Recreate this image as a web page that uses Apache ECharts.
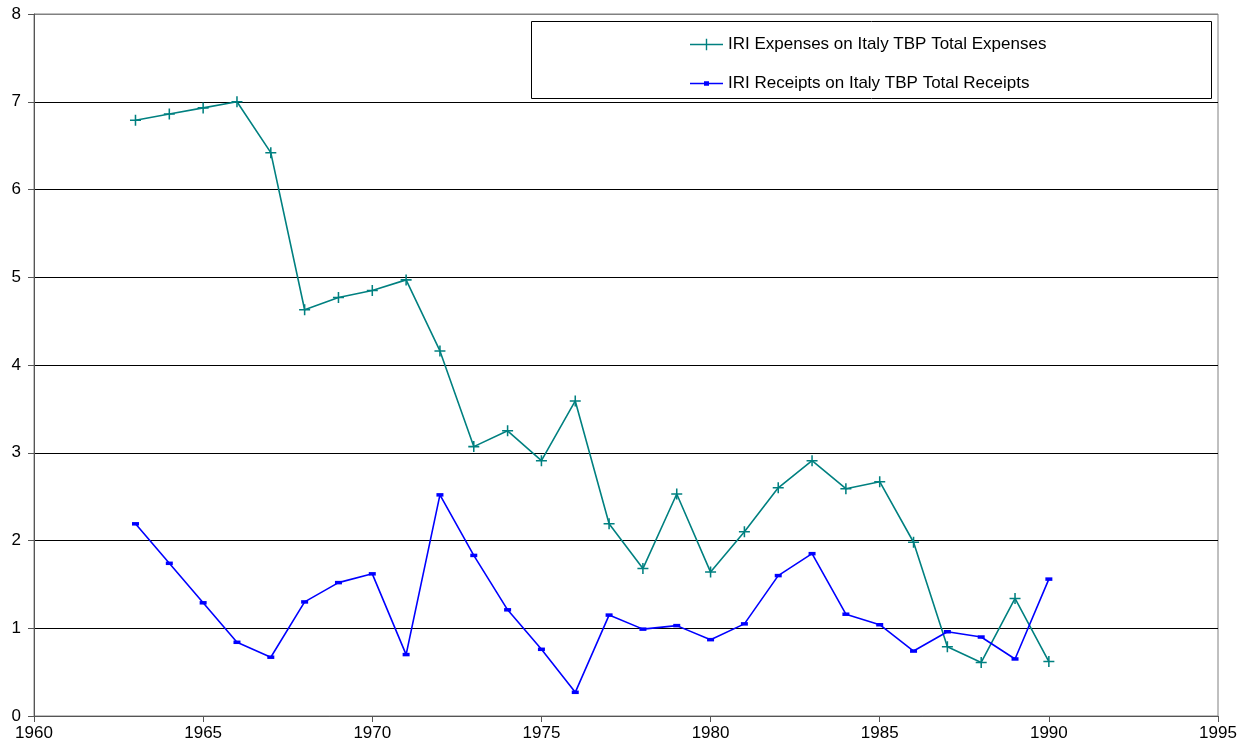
<!DOCTYPE html>
<html>
<head>
<meta charset="utf-8">
<script src="https://cdn.jsdelivr.net/npm/echarts@6/dist/echarts.min.js"></script>
<style>html,body{margin:0;padding:0;background:#fff;}#c{width:1248px;height:755px;}</style>
</head>
<body>
<div id="c"></div>
<script>
var years = [1963,1964,1965,1966,1967,1968,1969,1970,1971,1972,1973,1974,1975,1976,1977,1978,1979,1980,1981,1982,1983,1984,1985,1986,1987,1988,1989,1990];
var expenses = [6.79,6.86,6.93,7.0,6.42,4.63,4.77,4.85,4.97,4.16,3.07,3.25,2.91,3.59,2.19,1.68,2.53,1.64,2.10,2.60,2.91,2.59,2.67,1.98,0.79,0.61,1.34,0.62];
var receipts = [2.19,1.74,1.29,0.84,0.67,1.30,1.52,1.62,0.70,2.52,1.83,1.21,0.76,0.27,1.15,0.99,1.03,0.87,1.05,1.60,1.85,1.16,1.04,0.74,0.96,0.90,0.65,1.56];
var seriesNames = ['IRI Expenses on Italy TBP Total Expenses','IRI Receipts on Italy TBP Total Receipts'];

var chart = echarts.init(document.getElementById('c'));
var font = 'Liberation Sans, Arial, sans-serif';
var plus = 'path://M4.3,0H5.7V4.3H10V5.7H5.7V10H4.3V5.7H0V4.3H4.3Z';
var dash = 'path://M0,0H10V5H0Z';
var legPlus = 'path://M0,5H33V6.5H0Z M15.8,0H17.2V11.5H15.8Z';
var legDash = 'path://M0,1.5H33V3H0Z M14,0H19V4.5H14Z';
chart.setOption({
  animation: false,
  backgroundColor: '#fff',
  grid: {left: 34, right: 30, top: 14, bottom: 39, show: true, borderColor: '#808080', borderWidth: 1},
  graphic: [{type: 'rect', shape: {x: 531.5, y: 21.5, width: 680, height: 77}, style: {fill: '#fff', stroke: '#000', lineWidth: 1}, z: 50}],
  legend: {
    orient: 'vertical', left: 685, top: 31, itemGap: 22, itemWidth: 33, itemHeight: 14,
    symbolKeepAspect: true,
    textStyle: {fontFamily: font, fontSize: 17, color: '#000'}, z: 60,
    data: [{name: seriesNames[0], icon: legPlus}, {name: seriesNames[1], icon: legDash}]
  },
  xAxis: {
    type: 'value', min: 1960, max: 1995, interval: 5,
    axisLine: {lineStyle: {color: '#555', width: 1}},
    axisTick: {show: true, length: 6, lineStyle: {color: '#555'}},
    axisLabel: {fontFamily: font, fontSize: 17, color: '#000', margin: 9, formatter: function(v){return String(v);}},
    splitLine: {show: false}
  },
  yAxis: {
    type: 'value', min: 0, max: 8, interval: 1,
    axisLine: {show: true, lineStyle: {color: '#555', width: 1}},
    axisTick: {show: true, length: 6, lineStyle: {color: '#555'}},
    axisLabel: {fontFamily: font, fontSize: 17, color: '#000', margin: 13},
    splitLine: {show: true, lineStyle: {color: ['#808080','#000','#000','#000','#000','#000','#000','#000','#808080'], width: 1}}
  },
  series: [
    {name: seriesNames[0], type: 'line', data: years.map(function(y,i){return [y, expenses[i]];}),
     symbol: plus, symbolSize: 11, color: '#008080', lineStyle: {width: 1.6, color: '#008080'}, itemStyle: {color: '#008080'}},
    {name: seriesNames[1], type: 'line', data: years.map(function(y,i){return [y, receipts[i]];}),
     symbol: dash, symbolSize: 7, symbolKeepAspect: true, color: '#0000ff', lineStyle: {width: 1.6, color: '#0000ff'}, itemStyle: {color: '#0000ff'}}
  ]
});
</script>
</body>
</html>
